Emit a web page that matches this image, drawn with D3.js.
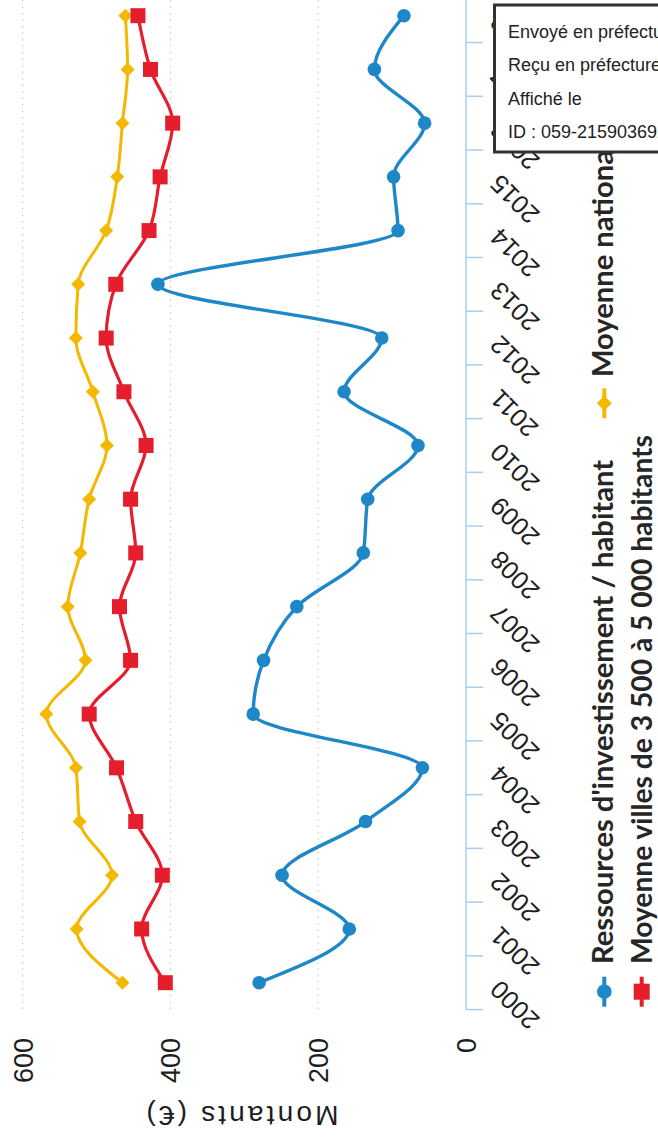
<!DOCTYPE html>
<html><head><meta charset="utf-8">
<script src="https://cdn.jsdelivr.net/npm/d3@7"></script>
<style>body{margin:0;background:#fff}svg{display:block}</style>
</head><body>
<svg id="c" width="658" height="1144"></svg>
<script>
const years = [2000,2001,2002,2003,2004,2005,2006,2007,2008,2009,2010,2011,2012,2013,2014,2015,2016,2017,2018];
const ressources = [280,158,249,136,59,288,274,229,139,133,65,165,114,417,92,98,56,124,84];
const moyenneVilles = [407,439,411,447,473,510,454,469,447,454,433,463,487,474,429,414,397,427,444];
const moyenneNationale = [465,527,479,523,528,568,515,539,522,510,486,505,528,525,487,472,465,458,461];
const valueTicks = [0,200,400,600];
const axisTitle = "Montants (€)";
const legendLabels = ["Ressources d'investissement / habitant","Moyenne villes de 3 500 à 5 000 habitants","Moyenne nationale"];
const stampLines = ["Envoyé en préfecture le","Reçu en préfecture le","Affiché le","ID : 059-215903692-2019"];

const colors = {blue:"#1d87c7", red:"#e41e2c", yellow:"#f4b800"};
const svg = d3.select("#c");
const x = d3.scaleLinear().domain([0,600]).range([466,22.7]);
const y = d3.scalePoint().domain(years).range([982.7,15.7]);
const step = y.step();
const axisBottom = y(years[0]) + step/2;
const x0 = x(0);

// gridlines
svg.append("g").selectAll("line").data(valueTicks.filter(v=>v>0)).join("line")
  .attr("x1",d=>x(d)).attr("x2",d=>x(d)).attr("y1",0).attr("y2",axisBottom)
  .attr("stroke","#c9c9c9").attr("stroke-width",1.2).attr("stroke-dasharray","1.5,5");

// category axis
svg.append("line").attr("x1",x0).attr("x2",x0).attr("y1",0).attr("y2",axisBottom)
  .attr("stroke","#a8cdee").attr("stroke-width",1.5);
const bounds = d3.range(years.length+1).map(i=>axisBottom - i*step);
svg.append("g").selectAll("line").data(bounds).join("line")
  .attr("x1",x0).attr("x2",x0+17).attr("y1",d=>d).attr("y2",d=>d)
  .attr("stroke","#a8cdee").attr("stroke-width",1.5);

svg.append("g").selectAll("text").data(years).join("text")
  .attr("transform",d=>`translate(${x0+35},${y(d)-4}) rotate(-135)`)
  .attr("text-anchor","end")
  .attr("font-family","Liberation Sans, Arial, sans-serif")
  .attr("font-size",25.5).attr("fill","#1e1e1e")
  .text(d=>d);

// value labels
svg.append("g").selectAll("text").data(valueTicks).join("text")
  .attr("transform",d=>`translate(${x(d)+10},1038) rotate(-90)`)
  .attr("text-anchor","end")
  .attr("font-family","Liberation Sans, Arial, sans-serif")
  .attr("font-size",27).attr("fill","#1e1e1e")
  .text(d=>d);

svg.append("text")
  .attr("transform",`translate(242.5,1106) rotate(180)`)
  .attr("text-anchor","middle")
  .attr("font-family","Liberation Sans, Arial, sans-serif")
  .attr("font-size",28).attr("fill","#1e1e1e")
  .attr("textLength",192).attr("lengthAdjust","spacing")
  .text(axisTitle);

// series
const line = d3.line().x(d=>x(d[1])).y(d=>y(d[0])).curve(d3.curveMonotoneY);
function series(vals,color,sw){
  const pts = years.map((yr,i)=>[yr,vals[i]]);
  svg.append("path").datum(pts).attr("d",line).attr("fill","none")
    .attr("stroke",color).attr("stroke-width",sw).attr("stroke-linejoin","round");
  return pts;
}
const diamond = (cx,cy,r)=>`M${cx},${cy-r}L${cx+r},${cy}L${cx},${cy+r}L${cx-r},${cy}Z`;
const pn = series(moyenneNationale,colors.yellow,3);
svg.append("g").selectAll("path").data(pn).join("path")
  .attr("d",d=>diamond(x(d[1]),y(d[0]),7)).attr("fill",colors.yellow);
const pv = series(moyenneVilles,colors.red,3.2);
svg.append("g").selectAll("rect").data(pv).join("rect")
  .attr("x",d=>x(d[1])-7.5).attr("y",d=>y(d[0])-7.5).attr("width",15).attr("height",15)
  .attr("fill",colors.red);
const pr = series(ressources,colors.blue,3.4);
svg.append("g").selectAll("circle").data(pr).join("circle")
  .attr("cx",d=>x(d[1])).attr("cy",d=>y(d[0])).attr("r",6.8).attr("fill",colors.blue);

// legend
const legend = [
  {label:legendLabels[0], color:colors.blue, kind:"circle", mx:604.3, my:991.7, tx:613, ty:964, len:504},
  {label:legendLabels[1], color:colors.red, kind:"square", mx:641.7, my:991.7, tx:652, ty:964, len:529},
  {label:legendLabels[2], color:colors.yellow, kind:"diamond", mx:604.3, my:403.3, tx:613, ty:377, len:null}
];
const lg = svg.append("g");
legend.forEach(it=>{
  lg.append("line").attr("x1",it.mx).attr("x2",it.mx).attr("y1",it.my-15).attr("y2",it.my+15)
    .attr("stroke",it.color).attr("stroke-width",4);
  if(it.kind==="circle") lg.append("circle").attr("cx",it.mx).attr("cy",it.my).attr("r",7.3).attr("fill",it.color);
  if(it.kind==="square") lg.append("rect").attr("x",it.mx-8).attr("y",it.my-8).attr("width",16).attr("height",16).attr("fill",it.color);
  if(it.kind==="diamond") lg.append("path").attr("d",diamond(it.mx,it.my,7.5)).attr("fill",it.color);
  it.node = lg.append("text").attr("transform",`translate(${it.tx},${it.ty}) rotate(-90)`)
    .attr("font-family","Lato, 'Noto Sans', sans-serif").attr("font-weight",700)
    .attr("font-size",29).attr("fill","#262626").text(it.label);
});
const k = legend[0].len / legend[0].node.node().getComputedTextLength();
legend.forEach(it=>{
  const L = it.len || it.node.node().getComputedTextLength()*k;
  it.node.attr("textLength",L).attr("lengthAdjust","spacingAndGlyphs");
});

// stamp box
const sg = svg.append("g");
sg.append("rect").attr("x",494.5).attr("y",5).attr("width",200).attr("height",147)
  .attr("fill","#fff").attr("stroke","#333").attr("stroke-width",3);
sg.selectAll("text").data(stampLines).join("text")
  .attr("x",508).attr("y",(d,i)=>[38,71,105,138][i])
  .attr("font-family","Liberation Sans, Arial, sans-serif").attr("font-size",18).attr("fill","#222")
  .text(d=>d);
</script>
</body></html>
